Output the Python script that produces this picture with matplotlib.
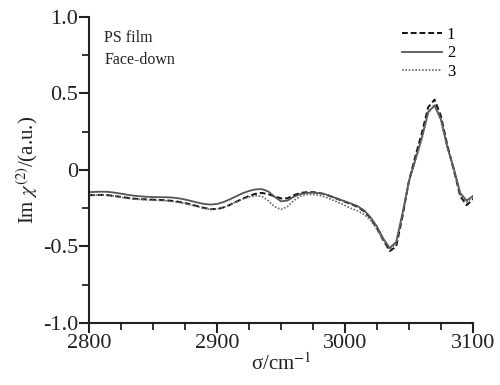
import matplotlib.pyplot as plt
from matplotlib.ticker import MultipleLocator

plt.rcParams['font.family'] = ['Liberation Serif', 'DejaVu Serif']
plt.rcParams['mathtext.fontset'] = 'stix'

# wavenumber grid (cm-1)
wn = [2800, 2805, 2810, 2815, 2820, 2825, 2830, 2835, 2840, 2845,
      2850, 2855, 2860, 2865, 2870, 2875, 2880, 2885, 2890, 2895,
      2900, 2905, 2910, 2915, 2920, 2925, 2930, 2935, 2940, 2945,
      2950, 2955, 2960, 2965, 2970, 2975, 2980, 2985, 2990, 2995,
      3000, 3005, 3010, 3015, 3020, 3025, 3030, 3035, 3040, 3045,
      3050, 3055, 3060, 3065, 3070, 3075, 3080, 3085, 3090, 3095, 3100]

s1 = [-0.165, -0.164, -0.163, -0.165, -0.170, -0.176, -0.182, -0.187, -0.190, -0.192,
      -0.194, -0.196, -0.198, -0.202, -0.208, -0.216, -0.226, -0.237, -0.248, -0.256,
      -0.255, -0.245, -0.228, -0.208, -0.188, -0.170, -0.156, -0.150, -0.158, -0.172,
      -0.186, -0.185, -0.165, -0.150, -0.145, -0.145, -0.150, -0.160, -0.176, -0.192,
      -0.208, -0.224, -0.242, -0.270, -0.315, -0.380, -0.460, -0.530, -0.500, -0.300,
      -0.070, 0.090, 0.240, 0.410, 0.460, 0.350, 0.160, 0.000, -0.170, -0.230, -0.190]

s2 = [-0.145, -0.143, -0.142, -0.143, -0.148, -0.155, -0.162, -0.168, -0.172, -0.175,
      -0.177, -0.178, -0.178, -0.180, -0.185, -0.193, -0.203, -0.213, -0.222, -0.226,
      -0.222, -0.210, -0.192, -0.172, -0.152, -0.137, -0.127, -0.125, -0.140, -0.175,
      -0.205, -0.200, -0.175, -0.158, -0.150, -0.148, -0.152, -0.160, -0.175, -0.190,
      -0.205, -0.220, -0.237, -0.265, -0.310, -0.370, -0.450, -0.510, -0.470, -0.280,
      -0.070, 0.070, 0.210, 0.380, 0.420, 0.330, 0.150, 0.010, -0.150, -0.200, -0.170]

s3 = [-0.165, -0.164, -0.164, -0.166, -0.171, -0.178, -0.185, -0.190, -0.193, -0.195,
      -0.197, -0.199, -0.201, -0.205, -0.211, -0.219, -0.229, -0.240, -0.250, -0.258,
      -0.256, -0.245, -0.228, -0.208, -0.190, -0.176, -0.168, -0.172, -0.200, -0.240,
      -0.258, -0.240, -0.200, -0.172, -0.160, -0.160, -0.166, -0.178, -0.195, -0.213,
      -0.232, -0.252, -0.268, -0.290, -0.330, -0.390, -0.460, -0.520, -0.480, -0.290,
      -0.080, 0.060, 0.200, 0.370, 0.430, 0.320, 0.140, 0.000, -0.160, -0.210, -0.180]

yticks = [-1.0, -0.5, 0, 0.5, 1.0]
ytick_labels = ['-1.0', '-0.5', '0', '0.5', '1.0']
xticks = [2800, 2900, 3000, 3100]

fig = plt.figure(figsize=(5, 3.85), dpi=100)
ax = fig.add_axes([0.178, 0.161, 0.768, 0.795])

ax.plot(wn, s1, color='#111111', ls=(0, (3, 1.5)), lw=1.4, label='1')
ax.plot(wn, s2, color='#555555', ls='-', lw=1.3, label='2')
ax.plot(wn, s3, color='#666666', ls=(0, (1, 1)), lw=1.2, label='3')

ax.set_xlim(2800, 3100)
ax.set_ylim(-1.0, 1.0)
ax.set_xticks(xticks)
ax.set_yticks(yticks)
ax.set_yticklabels(ytick_labels)
ax.xaxis.set_minor_locator(MultipleLocator(25))
ax.yaxis.set_minor_locator(MultipleLocator(0.25))

for side in ['top', 'right']:
    ax.spines[side].set_visible(False)
for side in ['left', 'bottom']:
    ax.spines[side].set_linewidth(1.5)
    ax.spines[side].set_color('#222222')

ax.tick_params(which='major', direction='out', length=7, width=1.5,
               labelsize=16, colors='#222222', pad=1)
ax.tick_params(which='minor', direction='out', length=5, width=1.3, colors='#222222')

ax.set_xlabel('σ/cm$^{-1}$', fontsize=15, labelpad=0, color='#222222')
ax.set_ylabel(r'Im $\chi^{(2)}$/(a.u.)', fontsize=15, labelpad=2, color='#222222')

ax.text(2812, 0.79, 'PS film\nFace-down', fontsize=11.5, va='center', ha='left',
        linespacing=1.45, color='#222222')

ax.legend(loc='upper right', bbox_to_anchor=(0.98, 1.0), frameon=False,
          fontsize=12, handlelength=2.4, handletextpad=0.3, labelspacing=0.15,
          borderaxespad=0.2)

fig.savefig('out.png', dpi=100)
